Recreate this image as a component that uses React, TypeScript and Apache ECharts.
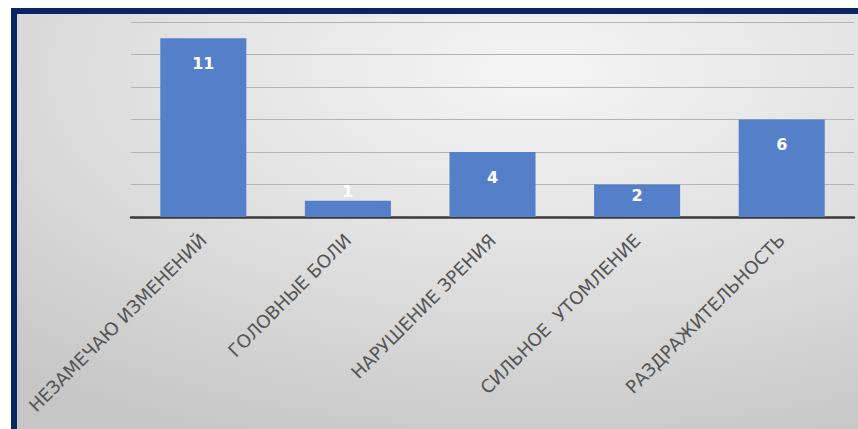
import React, { useEffect, useRef } from "react";
import * as echarts from "echarts";

const categories = [
  "НЕЗАМЕЧАЮ ИЗМЕНЕНИЙ",
  "ГОЛОВНЫЕ БОЛИ",
  "НАРУШЕНИЕ ЗРЕНИЯ",
  "СИЛЬНОЕ  УТОМЛЕНИЕ",
  "РАЗДРАЖИТЕЛЬНОСТЬ",
];
const values = [11, 1, 4, 2, 6];
const yMin = 0;
const yMax = 12;
const yInterval = 2;

export default function App() {
  const ref = useRef<HTMLDivElement>(null);
  useEffect(() => {
    document.body.style.margin = "0";
    const chart = echarts.init(ref.current!, null, { renderer: "svg" });
    const labelFor = (v: number) => {
      if (v <= 1) return { position: "top", distance: 1 };
      if (v <= 2) return { position: "insideTop", distance: 3 };
      return { position: "insideTop", distance: 17 };
    };
    chart.setOption({
      animation: false,
      backgroundColor: "#ffffff",
      graphic: [
        {
          type: "rect",
          z: -10,
          silent: true,
          shape: { x: 11, y: 8, width: 847, height: 421 },
          style: {
            fill: new echarts.graphic.RadialGradient(0.62, 0.15, 0.95, [
              { offset: 0, color: "#f5f5f5" },
              { offset: 0.5, color: "#e0e0e0" },
              { offset: 1, color: "#c6c6c6" },
            ]),
          },
        },
        {
          type: "rect",
          z: 10,
          silent: true,
          shape: { x: 11, y: 8, width: 847, height: 6 },
          style: { fill: "#0a2466" },
        },
        {
          type: "rect",
          z: 10,
          silent: true,
          shape: { x: 11, y: 8, width: 6, height: 421 },
          style: { fill: "#0a2466" },
        },
      ],
      grid: { left: 131, right: 4, top: 22, bottom: 212, containLabel: false },
      xAxis: {
        type: "category",
        data: categories,
        axisLine: { lineStyle: { color: "#3a3a3a", width: 2.5 } },
        axisTick: { show: false },
        axisLabel: {
          rotate: 45,
          margin: 20,
          interval: 0,
          color: "#555555",
          fontFamily: "DejaVu Sans",
          fontSize: 18,
        },
      },
      yAxis: {
        type: "value",
        min: yMin,
        max: yMax,
        interval: yInterval,
        axisLine: { show: false },
        axisTick: { show: false },
        axisLabel: { show: false },
        splitLine: { lineStyle: { color: "#b4b4b4", width: 1 } },
      },
      series: [
        {
          type: "bar",
          barWidth: "59.5%",
          itemStyle: { color: "#5580c9" },
          data: values.map((v) => ({
            value: v,
            label: labelFor(v),
          })),
          label: {
            show: true,
            color: "#ffffff",
            fontWeight: "bold",
            fontSize: 16,
            fontFamily: "DejaVu Sans",
          },
        },
      ],
    });
    return () => chart.dispose();
  }, []);
  return <div ref={ref} style={{ width: 858, height: 429 }} />;
}
